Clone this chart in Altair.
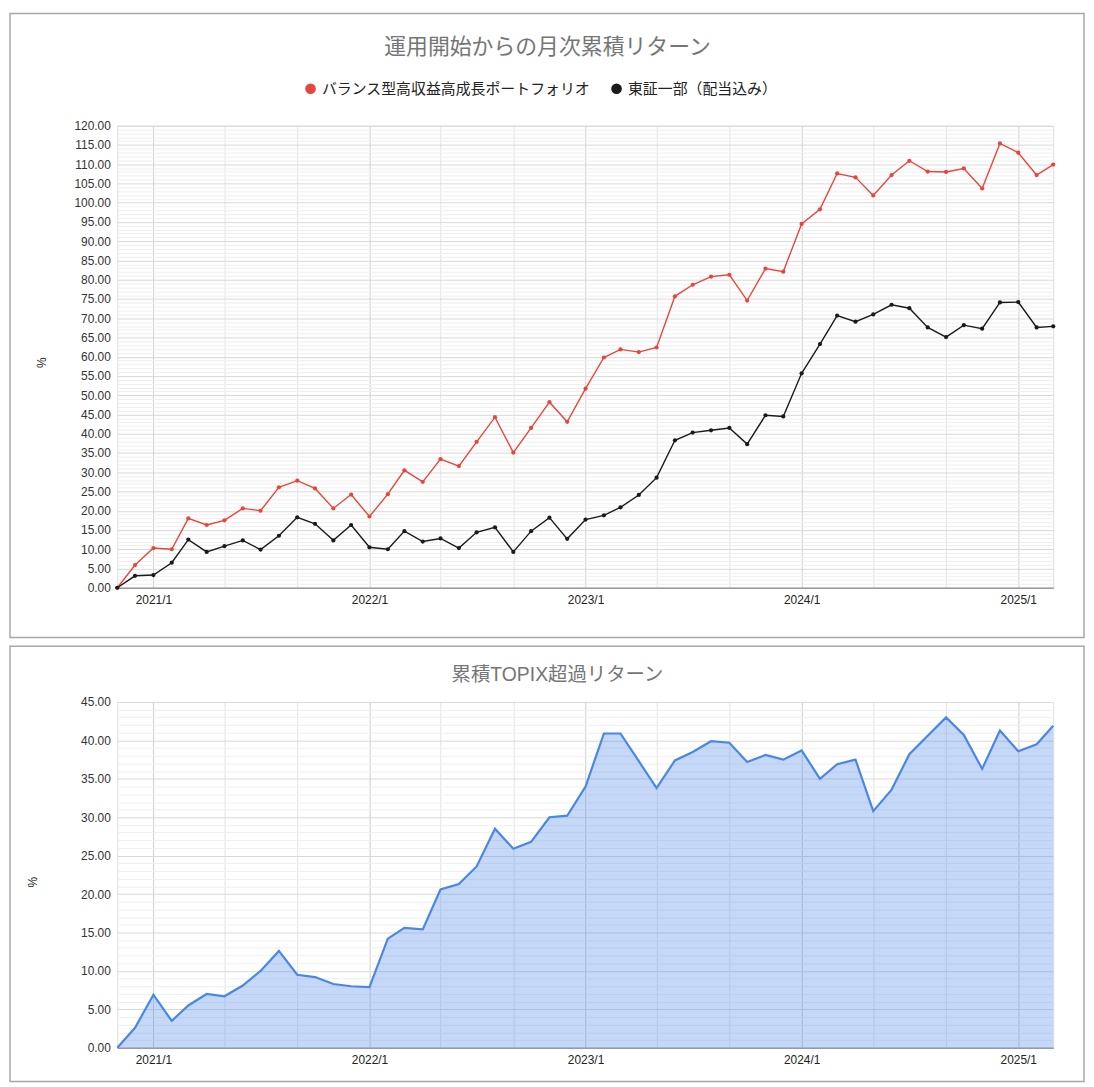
import altair as alt
import pandas as pd

months = [
    "2020-11", "2020-12",
    "2021-01", "2021-02", "2021-03", "2021-04", "2021-05", "2021-06",
    "2021-07", "2021-08", "2021-09", "2021-10", "2021-11", "2021-12",
    "2022-01", "2022-02", "2022-03", "2022-04", "2022-05", "2022-06",
    "2022-07", "2022-08", "2022-09", "2022-10", "2022-11", "2022-12",
    "2023-01", "2023-02", "2023-03", "2023-04", "2023-05", "2023-06",
    "2023-07", "2023-08", "2023-09", "2023-10", "2023-11", "2023-12",
    "2024-01", "2024-02", "2024-03", "2024-04", "2024-05", "2024-06",
    "2024-07", "2024-08", "2024-09", "2024-10", "2024-11", "2024-12",
    "2025-01", "2025-02", "2025-03",
]

portfolio = [
    0.0, 5.9,
    10.3, 10.0, 18.0, 16.3, 17.5, 20.6, 20.0, 26.1, 27.8, 25.8, 20.6, 24.2,
    18.5, 24.3, 30.5, 27.5, 33.4, 31.6, 37.9, 44.3, 35.1, 41.5, 48.2, 43.1,
    51.7, 59.8, 61.9, 61.2, 62.4, 75.7, 78.7, 80.8, 81.3, 74.6, 82.9, 82.1,
    94.5, 98.3, 107.6, 106.6, 101.9, 107.2, 110.9, 108.1, 108.0, 108.9, 103.7, 115.4,
    113.0, 107.2, 109.9,
]

topix = [
    0.0, 3.1,
    3.3, 6.5, 12.5, 9.3, 10.8, 12.3, 9.9, 13.5, 18.3, 16.6, 12.3, 16.3,
    10.5, 10.0, 14.7, 12.0, 12.8, 10.3, 14.4, 15.7, 9.3, 14.7, 18.2, 12.7,
    17.7, 18.8, 20.9, 24.1, 28.6, 38.3, 40.3, 40.9, 41.5, 37.3, 44.8, 44.5,
    55.7, 63.3, 70.7, 69.1, 71.0, 73.5, 72.6, 67.6, 65.1, 68.2, 67.3, 74.1,
    74.2, 67.6, 67.9,
]

excess = [
    0.0, 2.6,
    6.9, 3.5, 5.5, 7.0, 6.7, 8.1, 10.0, 12.6, 9.5, 9.2, 8.3, 8.0,
    7.9, 14.2, 15.6, 15.4, 20.6, 21.3, 23.6, 28.5, 25.9, 26.8, 30.0, 30.2,
    34.0, 40.9, 40.9, 37.3, 33.8, 37.4, 38.5, 39.9, 39.7, 37.2, 38.1, 37.5,
    38.7, 35.0, 36.9, 37.5, 30.8, 33.6, 38.2, 40.6, 43.0, 40.7, 36.3, 41.3,
    38.6, 39.5, 41.9,
]

series_names = ["バランス型高収益高成長ポートフォリオ", "東証一部（配当込み）"]
series_colors = ["#e8453c", "#1a1a1a"]

# vertical grid every 4 months, labels only on January
grid_months = [(2021, 1), (2021, 5), (2021, 9), (2022, 1), (2022, 5), (2022, 9),
               (2023, 1), (2023, 5), (2023, 9), (2024, 1), (2024, 5), (2024, 9),
               (2025, 1)]

FONT = "Liberation Sans, Arial, Noto Sans CJK JP"
W = 942

dates = [m + "-01" for m in months]
cum = pd.DataFrame({
    "month": dates * 2,
    "value": portfolio + topix,
    "series": [series_names[0]] * len(months) + [series_names[1]] * len(months),
})
ex = pd.DataFrame({"month": dates, "value": excess})
box = pd.DataFrame({"k": [0]})

x_domain = [alt.DateTime(year=2020, month=11, date=1, utc=True),
            alt.DateTime(year=2025, month=3, date=1, utc=True)]
x_values = [alt.DateTime(year=y, month=m, date=1, utc=True) for y, m in grid_months]


def x_enc():
    return alt.X(
        "month:T",
        scale=alt.Scale(type="utc", domain=x_domain),
        axis=alt.Axis(
            values=x_values,
            labelExpr="utcmonth(datum.value) === 0 ? utcFormat(datum.value, '%Y/%-m') : ''",
            title=None, ticks=False, labelPadding=7, labelFontSize=12,
            labelColor="#222", labelFont=FONT, labelOverlap=False,
            gridColor={"condition": {"test": "utcmonth(datum.value) === 0",
                                     "value": "#cfcfcf"}, "value": "#e4e4e4"},
            domainColor="#9a9a9a", domainWidth=1.6,
        ),
    )


def y_axis(top, title_x, title_y):
    return alt.Axis(
        values=list(range(0, top + 1)),
        labelExpr="datum.value % 5 === 0 ? format(datum.value, '.2f') : ''",
        labelOverlap=False, labelFontSize=12, labelColor="#333", labelFont=FONT,
        labelPadding=7, ticks=False, domain=False,
        gridColor={"condition": {"test": "datum.value % 5 === 0",
                                 "value": "#d9d9d9"}, "value": "#efefef"},
        title="%", titleFontSize=12, titleFontWeight="normal", titleColor="#222",
        titleFont=FONT, titleX=title_x, titleY=title_y, titleAngle=-90,
    )


# top panel: cumulative returns
H1 = 465
frame1 = alt.Chart(box).mark_rect(fillOpacity=0, stroke="#a8a8a8", strokeWidth=1.5).encode(
    x=alt.value(-108), x2=alt.value(W + 31), y=alt.value(-113), y2=alt.value(H1 + 50)
)
color = alt.Color(
    "series:N",
    scale=alt.Scale(domain=series_names, range=series_colors),
    legend=alt.Legend(
        title=None, orient="none", direction="horizontal", legendX=187, legendY=-45,
        symbolType="circle", symbolSize=115, symbolStrokeWidth=0, labelFontSize=15,
        labelColor="#222", labelFont=FONT, columnPadding=18, labelLimit=400,
    ),
)
base1 = alt.Chart(cum).encode(
    x=x_enc(),
    y=alt.Y("value:Q", scale=alt.Scale(domain=[0, 120], nice=False), axis=y_axis(120, -69, 238)),
    color=color,
)
lines1 = base1.mark_line(strokeWidth=1.4)
points1 = base1.mark_point(filled=True, size=18, opacity=1)
top = alt.layer(frame1, lines1, points1).properties(
    width=W, height=H1,
    title=alt.TitleParams("運用開始からの月次累積リターン", fontSize=22, fontWeight="normal",
                          color="#757575", font=FONT, anchor="middle", dx=-38, offset=0, dy=47),
)

# bottom panel: cumulative excess return vs TOPIX
H2 = 348
frame2 = alt.Chart(box).mark_rect(fillOpacity=0, stroke="#a8a8a8", strokeWidth=1.5).encode(
    x=alt.value(-108), x2=alt.value(W + 31), y=alt.value(-56), y2=alt.value(H2 + 34)
)
base2 = alt.Chart(ex).encode(
    x=x_enc(),
    y=alt.Y("value:Q", scale=alt.Scale(domain=[0, 45], nice=False), axis=y_axis(45, -78, 181)),
)
area2 = base2.mark_area(color="#4a86e8", opacity=0.32)
line2 = base2.mark_line(color="#4a86e8", strokeWidth=2.2)
bottom = alt.layer(frame2, area2, line2).properties(
    width=W, height=H2,
    title=alt.TitleParams("累積TOPIX超過リターン", fontSize=19.5, fontWeight="normal",
                          color="#757575", font=FONT, anchor="middle", dx=-28, offset=0, dy=40),
)

chart = alt.vconcat(top, bottom, spacing=5).properties(
    padding={"left": 0, "top": 0, "right": 0, "bottom": 0}
).configure_view(stroke=None).configure(font=FONT)

chart.save("out.html", embed_options={"renderer": "svg", "actions": False})
